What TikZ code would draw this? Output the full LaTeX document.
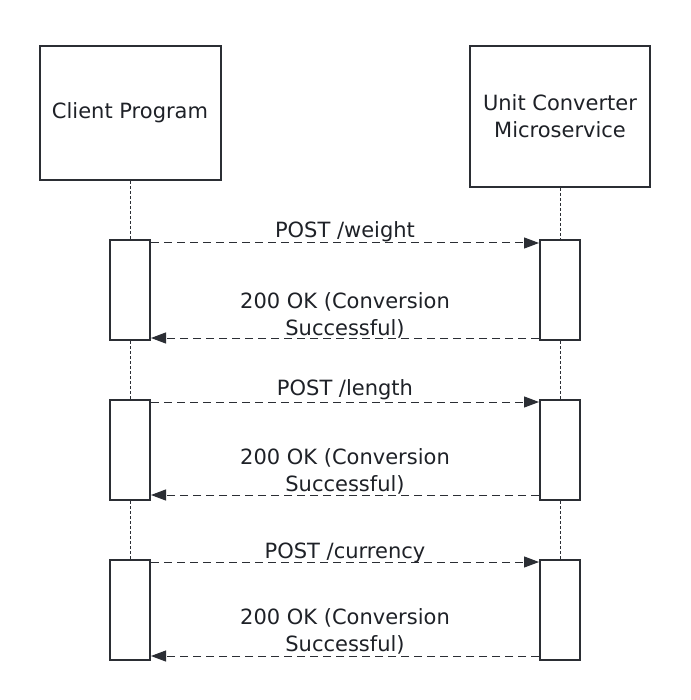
\documentclass[tikz,border=0pt]{standalone}
\usepackage{fontspec}
\setmainfont{DejaVu Sans}
\usetikzlibrary{arrows.meta}
\definecolor{ink}{HTML}{2B2E34}
\definecolor{txt}{HTML}{1E2127}
\tikzset{
  actor/.style={draw=ink, line width=2pt, fill=white, minimum width=181pt, align=center, text=txt, font=\fontsize{21}{27}\selectfont, inner sep=0pt},
  actbox/.style={draw=ink, line width=2pt, fill=white, minimum width=40pt, minimum height=100pt, inner sep=0pt},
  life/.style={draw=ink, line width=0.9pt, dash pattern=on 3pt off 2pt},
  msg/.style={draw=ink, line width=1pt, dash pattern=on 8pt off 5pt, -{Triangle[length=15pt,width=11pt]}},
  lbl/.style={text=txt, font=\fontsize{21}{27}\selectfont, align=center, inner sep=0pt}
}
\begin{document}
\begin{tikzpicture}[x=1pt,y=-1pt]
\useasboundingbox (0,0) rectangle (690,700);
\fill[white] (0,0) rectangle (690,700);
% actors
\node[actor, minimum height=134pt] (cl) at (130,113) {\raisebox{-2pt}{Client Program}};
\node[actor, minimum height=141pt, minimum width=180pt] (sv) at (560,116.5) {\raisebox{-2pt}{Unit Converter}\\\raisebox{-2pt}{Microservice}};
% activation boxes
\node[actbox] (ca1) at (130,290) {};
\node[actbox] (sa1) at (560,290) {};
\node[actbox] (ca2) at (130,450) {};
\node[actbox] (sa2) at (560,450) {};
\node[actbox] (ca3) at (130,610) {};
\node[actbox] (sa3) at (560,610) {};
% lifelines
\draw[life] (cl.south) -- (ca1.north);
\draw[life] (ca1.south) -- (ca2.north);
\draw[life] (ca2.south) -- (ca3.north);
\draw[life] (sv.south) -- (sa1.north);
\draw[life] (sa1.south) -- (sa2.north);
\draw[life] (sa2.south) -- (sa3.north);
% messages
\draw[msg] ([yshift=-4pt]ca1.north east) -- ([yshift=-4pt]sa1.north west);
\node[lbl] (m1) at (345,231.5) {POST /weight};
\draw[msg] ([yshift=3pt]sa1.south west) -- ([yshift=3pt]ca1.south east);
\node[lbl] (r1) at (345,315) {200 OK (Conversion\\Successful)};
\draw[msg] ([yshift=-3pt]ca2.north east) -- ([yshift=-3pt]sa2.north west);
\node[lbl] (m2) at (345,390) {POST /length};
\draw[msg] ([yshift=6pt]sa2.south west) -- ([yshift=6pt]ca2.south east);
\node[lbl] (r2) at (345,471.5) {200 OK (Conversion\\Successful)};
\draw[msg] ([yshift=-3pt]ca3.north east) -- ([yshift=-3pt]sa3.north west);
\node[lbl] (m3) at (345,552.5) {POST /currency};
\draw[msg] ([yshift=5pt]sa3.south west) -- ([yshift=5pt]ca3.south east);
\node[lbl] (r3) at (345,631) {200 OK (Conversion\\Successful)};
\end{tikzpicture}
\end{document}
